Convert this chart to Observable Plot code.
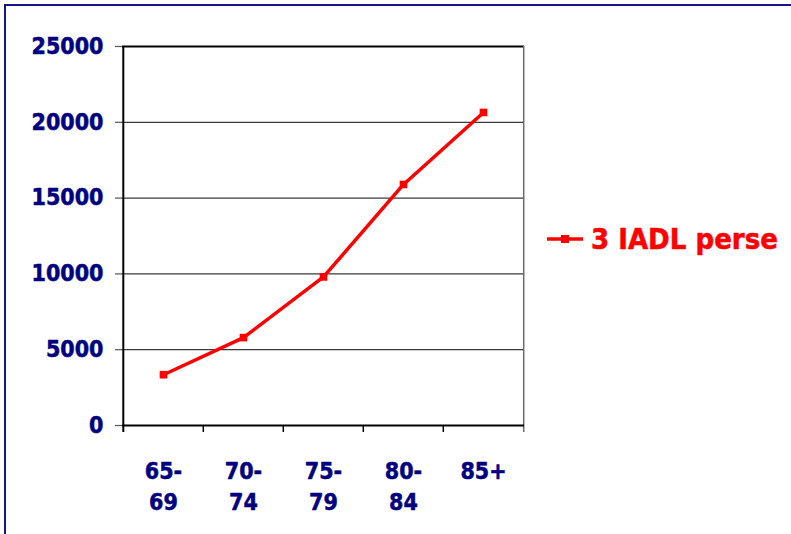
<!DOCTYPE html>
<html>
<head>
<meta charset="utf-8">
<script src="https://cdn.jsdelivr.net/npm/d3@7"></script>
<script src="https://cdn.jsdelivr.net/npm/@observablehq/plot@0.6"></script>
<style>
  html, body { margin: 0; padding: 0; background: #fff; overflow: hidden; }
  body { width: 791px; height: 534px; position: relative; }
  #frame { position: absolute; left: 4px; top: 4px; width: 900px; height: 700px; border: 2px solid #16168a; box-sizing: border-box; }
  #chart { position: absolute; left: 0; top: 0; }
  #legend { position: absolute; left: 0; top: 0; }
  .f { font-family: "DejaVu Sans Condensed", "DejaVu Sans", sans-serif; font-stretch: condensed; font-weight: bold; }
</style>
</head>
<body>
<div id="frame"></div>
<div id="chart"></div>
<svg id="legend" width="791" height="534" class="f">
  <line x1="547" x2="583" y1="239" y2="239" stroke="#ff0000" stroke-width="3.5"></line>
  <rect x="561" y="235" width="8" height="8" fill="#ff0000"></rect>
  <text id="legText" x="591" y="249" font-size="29" fill="#ff0000" stroke="#ff0000" stroke-width="0.5"></text>
</svg>
<script>
const categories = ["65-69", "70-74", "75-79", "80-84", "85+"];
const xLabels = ["65-\n69", "70-\n74", "75-\n79", "80-\n84", "85+"];
const values = [3350, 5800, 9800, 15900, 20650];
const yTicks = [0, 5000, 10000, 15000, 20000, 25000];
const seriesName = "3 IADL perse";

document.getElementById("legText").textContent = seriesName;

const W = 791, H = 534, mL = 122, mR = 267, mT = 46, mB = 109;
const pw = W - mL - mR;
const bw = pw / categories.length;
const ph = H - mT - mB;
const navy = "#000080";

const chart = Plot.plot({
  width: W, height: H,
  marginLeft: mL, marginRight: mR, marginTop: mT, marginBottom: mB,
  style: { fontFamily: '"DejaVu Sans Condensed", "DejaVu Sans", sans-serif', fontStretch: "condensed", fontWeight: "bold", background: "transparent", overflow: "visible" },
  x: { type: "band", domain: categories, padding: 0, axis: null },
  y: { domain: [0, 25000], axis: null },
  marks: [
    Plot.ruleY(yTicks.filter(d => d > 0 && d < 25000), { stroke: "#3a3a3a", strokeWidth: 1.2 }),
    Plot.ruleY([25000], { stroke: "#000", strokeWidth: 2 }),
    Plot.ruleX(categories.slice(-1), { dx: bw / 2, stroke: "#6a6a6a", strokeWidth: 1.5, insetBottom: -7 }),
    Plot.ruleX(categories.slice(1), { dx: -bw / 2, insetTop: ph, insetBottom: -7, stroke: "#000", strokeWidth: 1.5 }),
    Plot.ruleX(categories.slice(0, 1), { dx: -bw / 2, insetBottom: -7, stroke: "#000", strokeWidth: 2 }),
    Plot.ruleY(yTicks, { insetLeft: -7, insetRight: pw, stroke: "#555", strokeWidth: 1.2 }),
    Plot.ruleY([0], { stroke: "#000", strokeWidth: 2 }),
    Plot.text(yTicks, { y: d => d, text: d => String(d), frameAnchor: "left", dx: -19, textAnchor: "end", fontSize: 23, fill: navy, stroke: navy, strokeWidth: 0.5, fontWeight: "bold" }),
    Plot.text(categories, { x: d => d, text: xLabels, frameAnchor: "bottom", dy: 31, lineAnchor: "top", lineHeight: 1.35, fontSize: 23, fill: navy, stroke: navy, strokeWidth: 0.5, fontWeight: "bold" }),
    Plot.line(categories, { x: d => d, y: values, stroke: "#ff0000", strokeWidth: 3.5 }),
    Plot.dot(categories, { x: d => d, y: values, symbol: "square", r: 4.3, fill: "#ff0000", stroke: "none" })
  ]
});
document.getElementById("chart").appendChild(chart);
</script>
</body>
</html>
